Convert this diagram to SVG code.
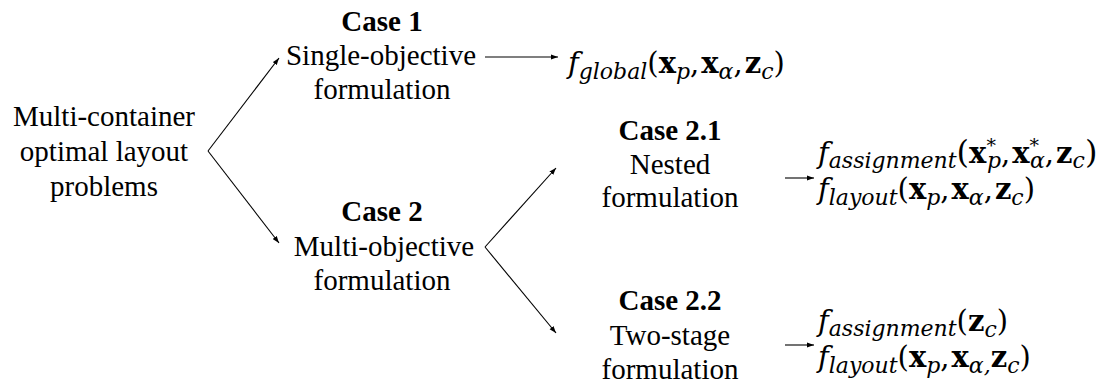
<svg xmlns="http://www.w3.org/2000/svg" width="1103" height="385" viewBox="0 0 1103 385">
<style>
.t{font-family:"Liberation Serif","Times New Roman",serif;font-size:29px;fill:#000;text-anchor:middle}
.h{font-weight:bold}
.m{font-family:"DejaVu Serif",serif;font-size:29px;fill:#000}
.i{font-style:italic}
.b{font-weight:bold}
.s{font-size:22px;font-style:italic}
.a{font-size:19px;font-style:normal}
.p{font-size:32px}
.c{stroke:#000;stroke-width:1.1;fill:none}
</style>
<defs>
<marker id="ah" markerUnits="userSpaceOnUse" markerWidth="8" markerHeight="6" refX="7" refY="3" orient="auto">
<path d="M0,0.5 L7,3 L0,5.5 z" fill="#000"/>
</marker>
</defs>
<rect width="1103" height="385" fill="#fff"/>
<g id="connectors">
<path class="c" d="M208,151 L279,58" marker-end="url(#ah)"/>
<path class="c" d="M208,151 L279,243" marker-end="url(#ah)"/>
<path class="c" d="M485,57 L558,57" marker-end="url(#ah)"/>
<path class="c" d="M485,247 L556,168" marker-end="url(#ah)"/>
<path class="c" d="M485,247 L556,333" marker-end="url(#ah)"/>
<path class="c" d="M785,178 L814,178" marker-end="url(#ah)"/>
<path class="c" d="M785,345 L814,345" marker-end="url(#ah)"/>
</g>
<g id="root">
<text class="t" x="104" y="126">Multi-container</text>
<text class="t" x="104" y="161">optimal layout</text>
<text class="t" x="104" y="196">problems</text>
</g>
<g id="case1">
<text class="t h" x="382" y="31">Case 1</text>
<text class="t" x="381" y="65">Single-objective</text>
<text class="t" x="382" y="99">formulation</text>
</g>
<g id="case2">
<text class="t h" x="382" y="221">Case 2</text>
<text class="t" x="384" y="256">Multi-objective</text>
<text class="t" x="382" y="290">formulation</text>
</g>
<g id="case21">
<text class="t h" x="670" y="140">Case 2.1</text>
<text class="t" x="670" y="174">Nested</text>
<text class="t" x="670" y="207">formulation</text>
</g>
<g id="case22">
<text class="t h" x="670" y="310">Case 2.2</text>
<text class="t" x="670" y="345">Two-stage</text>
<text class="t" x="670" y="379">formulation</text>
</g>
<g id="f-global">
<text class="m" x="568" y="73"><tspan class="i">f</tspan><tspan class="s" dy="6">global</tspan><tspan dy="-6">(</tspan><tspan class="b">x</tspan><tspan class="s" dy="6">p</tspan><tspan dy="-6">,</tspan><tspan class="b" dx="2">x</tspan><tspan class="s" dy="6">α</tspan><tspan dy="-6">,</tspan><tspan class="b" dx="2">z</tspan><tspan class="s" dy="6">c</tspan><tspan dy="-6">)</tspan></text>
</g>
<g id="f-nested">
<text class="m" x="818" y="163"><tspan class="i">f</tspan><tspan class="s" dy="5">assignment</tspan><tspan class="p" dy="-5">(</tspan><tspan class="b">x</tspan><tspan class="s a" dy="-11">*</tspan><tspan class="s" dx="-9" dy="16">p</tspan><tspan dy="-5">,</tspan><tspan class="b" dx="2">x</tspan><tspan class="s a" dy="-11">*</tspan><tspan class="s" dx="-9" dy="16">α</tspan><tspan dy="-5">,</tspan><tspan class="b" dx="2">z</tspan><tspan class="s" dy="5">c</tspan><tspan class="p" dy="-5">)</tspan></text>
<text class="m" x="818" y="199"><tspan class="i">f</tspan><tspan class="s" dy="6">layout</tspan><tspan dy="-6">(</tspan><tspan class="b">x</tspan><tspan class="s" dy="6">p</tspan><tspan dy="-6">,</tspan><tspan class="b" dx="2">x</tspan><tspan class="s" dy="6">α</tspan><tspan dy="-6">,</tspan><tspan class="b" dx="2">z</tspan><tspan class="s" dy="6">c</tspan><tspan dy="-6">)</tspan></text>
</g>
<g id="f-twostage">
<text class="m" x="818" y="331"><tspan class="i">f</tspan><tspan class="s" dy="5">assignment</tspan><tspan dy="-5">(</tspan><tspan class="b">z</tspan><tspan class="s" dy="6">c</tspan><tspan dy="-6">)</tspan></text>
<text class="m" x="818" y="367"><tspan class="i">f</tspan><tspan class="s" dy="6">layout</tspan><tspan dy="-6">(</tspan><tspan class="b">x</tspan><tspan class="s" dy="6">p</tspan><tspan dy="-6">,</tspan><tspan class="b" dx="2">x</tspan><tspan class="s" dy="6">α,</tspan><tspan class="b" dy="-6">z</tspan><tspan class="s" dy="6">c</tspan><tspan dy="-6">)</tspan></text>
</g>
</svg>
